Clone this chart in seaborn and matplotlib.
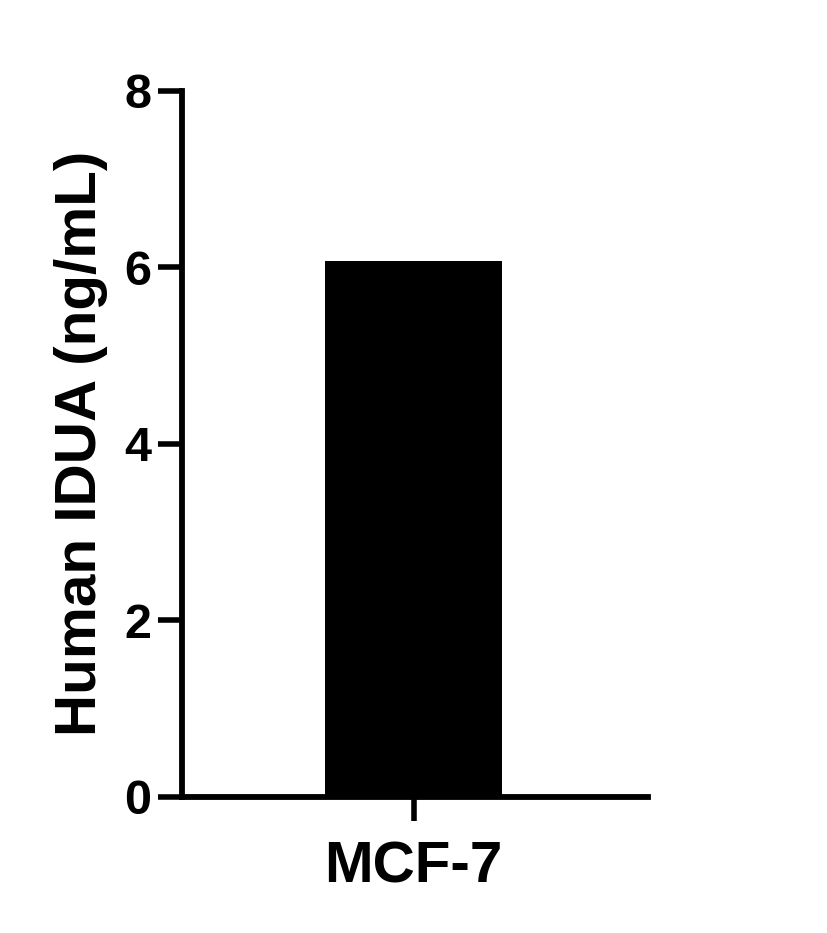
import seaborn as sns
import matplotlib.pyplot as plt
import pandas as pd

cells = ["MCF-7"]
idua = [6.07]
yticks = [0, 2, 4, 6, 8]

df = pd.DataFrame({"cell": cells, "idua": idua})

sns.set_style("ticks")
plt.rcParams['font.family'] = ['Liberation Sans', 'DejaVu Sans']
plt.rcParams['font.weight'] = 'bold'
plt.rcParams['text.color'] = 'black'
plt.rcParams['axes.labelcolor'] = 'black'
plt.rcParams['xtick.color'] = 'black'
plt.rcParams['ytick.color'] = 'black'

fig = plt.figure(figsize=(8.27, 9.33), dpi=100)
ax = fig.add_axes([182 / 827, 1 - 796.5 / 933, (648 - 182) / 827, (796.5 - 90.5) / 933])

sns.barplot(data=df, x="cell", y="idua", color="black", width=0.5,
            edgecolor="black", linewidth=0, saturation=1, ax=ax)

ax.set_ylim(0, 8)
ax.set_yticks(yticks)
ax.set_xlim(-0.654, 0.662)
ax.set_xlabel("")
ax.set_ylabel("Human IDUA (ng/mL)", fontsize=42, fontweight="bold", labelpad=12, color="black")

for s in ["top", "right"]:
    ax.spines[s].set_visible(False)
for s in ["left", "bottom"]:
    ax.spines[s].set_linewidth(4.2)
    ax.spines[s].set_color("black")

ax.tick_params(axis="y", length=17, width=4, labelsize=35, pad=5, colors="black")
ax.tick_params(axis="x", length=17, width=4, labelsize=42, pad=15, colors="black")
for lab in ax.get_xticklabels() + ax.get_yticklabels():
    lab.set_fontweight("bold")

fig.savefig("out.png", dpi=100)
